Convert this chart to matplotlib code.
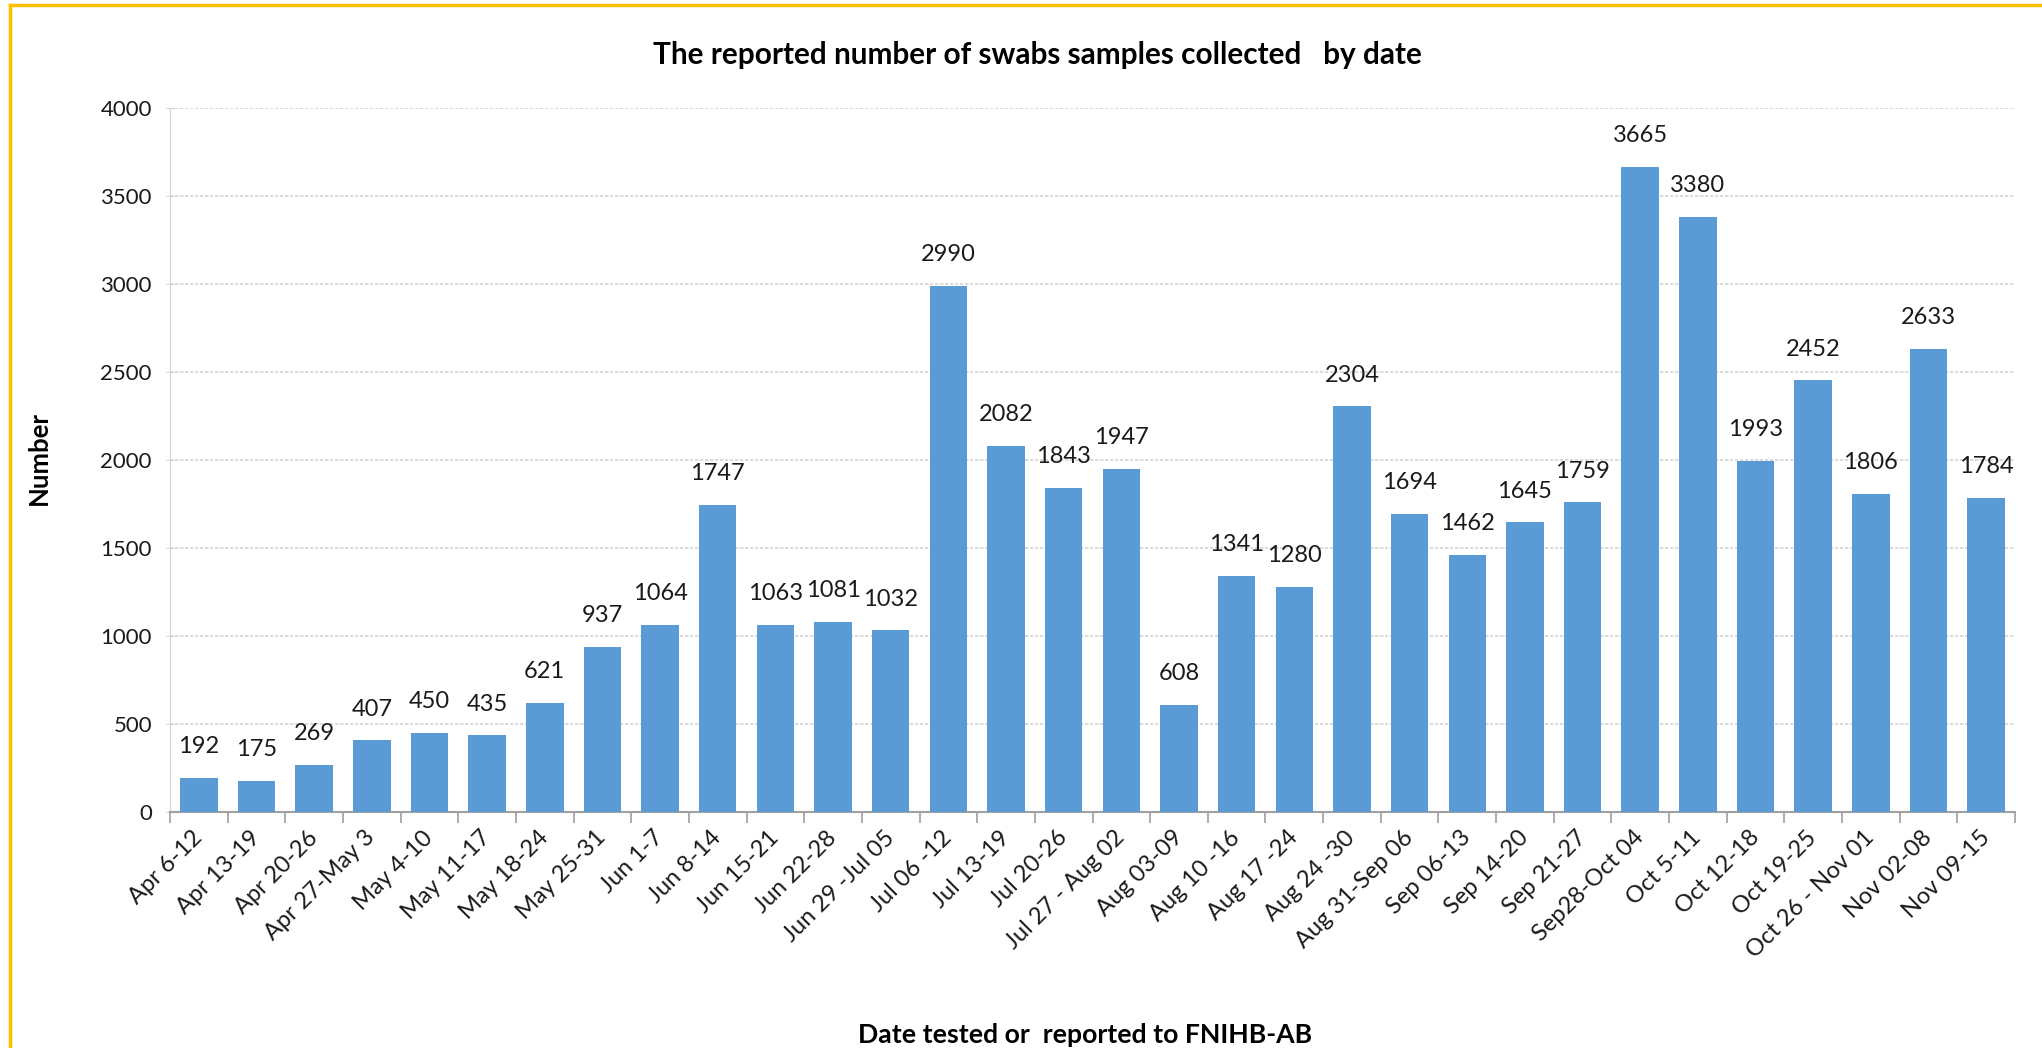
import matplotlib
matplotlib.use('Agg')
import matplotlib.pyplot as plt
from matplotlib.lines import Line2D
import numpy as np

weeks = ['Apr 6-12', 'Apr 13-19', 'Apr 20-26', 'Apr 27-May 3', 'May 4-10',
         'May 11-17', 'May 18-24', 'May 25-31', 'Jun 1-7', 'Jun 8-14',
         'Jun 15-21', 'Jun 22-28', 'Jun 29 -Jul 05', 'Jul 06 -12', 'Jul 13-19',
         'Jul 20-26', 'Jul 27 - Aug 02', 'Aug 03-09', 'Aug 10 -16', 'Aug 17 -24',
         'Aug 24 -30', 'Aug 31-Sep 06', 'Sep 06-13', 'Sep 14-20', 'Sep 21-27',
         'Sep28-Oct 04', 'Oct 5-11', 'Oct 12-18', 'Oct 19-25',
         'Oct 26 - Nov 01', 'Nov 02-08', 'Nov 09-15']
swabs = [192, 175, 269, 407, 450, 435, 621, 937, 1064, 1747,
         1063, 1081, 1032, 2990, 2082, 1843, 1947, 608, 1341, 1280,
         2304, 1694, 1462, 1645, 1759, 3665, 3380, 1993, 2452,
         1806, 2633, 1784]
yticks = [0, 500, 1000, 1500, 2000, 2500, 3000, 3500, 4000]

plt.rcParams['font.family'] = ['Lato', 'DejaVu Sans']

fig = plt.figure(figsize=(20.42, 10.48), dpi=100)
left, right, top, bottom = 170, 2015, 108, 812
ax = fig.add_axes([left / 2042, 1 - bottom / 1048,
                   (right - left) / 2042, (bottom - top) / 1048])

x = np.arange(len(weeks))
ax.bar(x, swabs, width=0.65, color='#5B9BD5', zorder=3)

for xi, v in zip(x, swabs):
    ax.annotate(str(v), (xi, v), xytext=(0, 15), textcoords='offset points',
                ha='center', va='bottom', fontsize=17, color='#1a1a1a')

ax.set_xlim(-0.5, len(weeks) - 0.5)
ax.set_ylim(0, 4000)
ax.set_yticks(yticks)
ax.tick_params(axis='y', labelsize=16, length=6, direction='inout',
               color='#d0d0d0', pad=10, labelcolor='#1a1a1a')
ax.grid(axis='y', color='#d4d4d4', linestyle=(0, (2, 1)), linewidth=1.2, zorder=0)

ax.set_xticks(x)
ax.set_xticklabels(weeks, rotation=45, ha='right', va='center',
                   rotation_mode='anchor', fontsize=17, color='#1a1a1a')
ax.tick_params(axis='x', which='major', length=0, pad=16)
ax.set_xticks(np.arange(len(weeks) + 1) - 0.5, minor=True)
ax.tick_params(axis='x', which='minor', length=8, color='#a0a0a0', width=1.2)

for s in ['top', 'right']:
    ax.spines[s].set_visible(False)
ax.spines['bottom'].set_color('#a0a0a0')
ax.spines['bottom'].set_linewidth(1.5)
ax.spines['left'].set_color('#d4d4d4')
ax.spines['left'].set_linestyle((0, (2, 1)))

fig.text(1037 / 2042, 1 - 55 / 1048, 'The reported number of swabs samples collected   by date',
         ha='center', va='center', fontsize=21.4, fontweight='bold')
fig.text(1085 / 2042, 1 - 1035 / 1048, 'Date tested or  reported to FNIHB-AB',
         ha='center', va='center', fontsize=19.2, fontweight='bold')
fig.text(39 / 2042, 1 - 458 / 1048, 'Number', rotation=90,
         ha='center', va='center', fontsize=18.5, fontweight='bold')

# yellow frame (cropped on the right and bottom)
fig.add_artist(Line2D([9.5 / 2042, 9.5 / 2042], [0, 1 - 4.5 / 1048],
                      color='#FFC000', linewidth=2.5, transform=fig.transFigure))
fig.add_artist(Line2D([9.5 / 2042, 1], [1 - 4.5 / 1048, 1 - 4.5 / 1048],
                      color='#FFC000', linewidth=2.5, transform=fig.transFigure))

fig.savefig('out.png', dpi=100)
